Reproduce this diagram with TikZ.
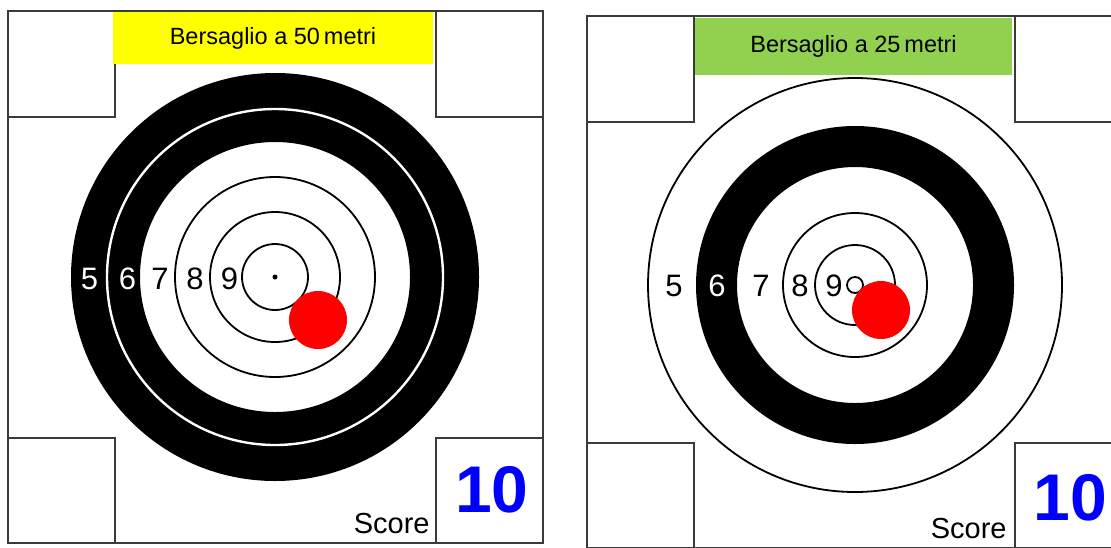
\documentclass[tikz,border=0pt]{standalone}
\usepackage{fontspec}
\setmainfont{Liberation Sans}
\usetikzlibrary{positioning}
\definecolor{framegray}{HTML}{3A3A3A}
\definecolor{band50}{HTML}{FFFF00}
\definecolor{band25}{HTML}{92D050}
\definecolor{hitred}{HTML}{FF0000}
\definecolor{scoreblue}{HTML}{0000FF}
\tikzset{
  % Card outline and the four corner boxes
  cardline/.style={draw=framegray, line width=1pt},
  % Coloured title banner
  banner/.style={
    fill=#1, draw=none, inner sep=0pt, align=center,
    font=\fontsize{11.75}{14}\selectfont},
  % Scoring rings
  ring/.style={draw=black, line width=0.9pt},
  % Ring numbers
  ringnum/.style={font=\fontsize{15.5}{18}\selectfont, inner sep=0pt, text=#1},
  ringnum/.default=black,
  % Shot mark
  hit/.style={fill=hitred},
  % Score caption and value
  scorelbl/.style={font=\fontsize{14.5}{17}\selectfont, inner sep=0pt, anchor=base east},
  scoreval/.style={font=\fontsize{33}{38}\selectfont\bfseries, text=scoreblue,
    inner sep=0pt, anchor=base},
}

\begin{document}
\begin{tikzpicture}[x=0.5pt, y=-0.5pt]

\fill[white] (0,0) rectangle (1111,547);
\useasboundingbox (0,0) rectangle (1111,547);
\clip (0,0) rectangle (1111,547);

% ---- 50 m target ----
\coordinate (lc) at (275,277);
\draw[cardline] (8,11) rectangle (543,543);
\draw[cardline] (8,11) rectangle (115,117);
\draw[cardline] (436,11) rectangle (543,117);
\draw[cardline] (8,438) rectangle (115,543);
\draw[cardline] (436,438) rectangle (543,543);

\node[banner=band50, minimum width=160pt, minimum height=26pt] (title50)
  at (273,38) {Bersaglio a 50\,metri};

\fill[black, even odd rule] (lc) circle[radius=204] (lc) circle[radius=135];
\draw[white, line width=1.2pt] (lc) circle[radius=168];
\foreach \r in {33,65,100}
  \draw[ring] (lc) circle[radius=\r];
\fill[black] (lc) circle[radius=2.5];

\node[ringnum=white] (lnum5) at (89.5,278.5) {5};
\node[ringnum=white] (lnum6) at (127.5,278.5) {6};
\node[ringnum] (lnum7) at (160,278.5) {7};
\node[ringnum] (lnum8) at (195,278.5) {8};
\node[ringnum] (lnum9) at (229.5,278.5) {9};

\fill[hit] (318,320) circle[radius=29];

\node[scorelbl] (lscore) at (430,533) {Score};
\node[scoreval] (lval) at (492,512) {10};

% ---- 25 m target ----
\coordinate (rc) at (855,285);
\draw[cardline] (587,16) rectangle (1122,548);
\draw[cardline] (587,16) rectangle (694,122);
\draw[cardline] (1015,16) rectangle (1122,122);
\draw[cardline] (587,443) rectangle (694,548);
\draw[cardline] (1015,443) rectangle (1122,548);

\node[banner=band25, minimum width=158.5pt, minimum height=28.5pt] (title25)
  at (853.5,46.5) {Bersaglio a 25\,metri};

\draw[ring] (rc) circle[radius=207];
\fill[black, even odd rule] (rc) circle[radius=159] (rc) circle[radius=118];
\foreach \r in {8,40,72}
  \draw[ring] (rc) circle[radius=\r];

\node[ringnum] (rnum5) at (674,286) {5};
\node[ringnum=white] (rnum6) at (717,286) {6};
\node[ringnum] (rnum7) at (761,286) {7};
\node[ringnum] (rnum8) at (800,286) {8};
\node[ringnum] (rnum9) at (834,286) {9};

\fill[hit] (881,310) circle[radius=29];

\node[scorelbl] (rscore) at (1007,538) {Score};
\node[scoreval] (rval) at (1070,520) {10};

\end{tikzpicture}
\end{document}
